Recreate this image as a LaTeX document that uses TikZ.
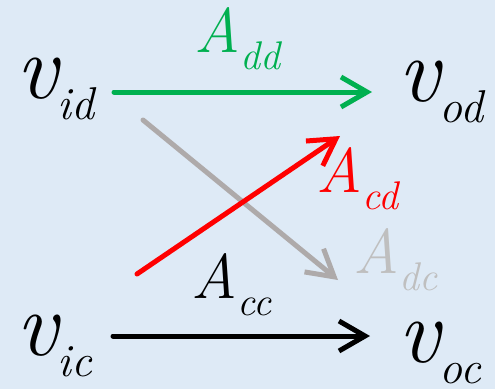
\documentclass[tikz,border=0pt]{standalone}
\usepackage{fontspec}
\usetikzlibrary{arrows.meta}
\definecolor{bgblue}{HTML}{DEEAF6}
\definecolor{dgreen}{HTML}{00B050}
\definecolor{agray}{HTML}{AEAAAA}
\definecolor{lgray}{HTML}{BFBFBF}
\newcommand{\vtxt}[1]{{\fontsize{92}{92}\selectfont v}\raisebox{-21pt}{\fontsize{46}{46}\selectfont #1}}
\newcommand{\atxt}[1]{{\fontsize{63}{63}\selectfont A}\raisebox{-17pt}{\fontsize{40}{40}\selectfont #1}}
\begin{document}
\begin{tikzpicture}[x=1pt,y=-1pt,
  lab/.style={inner sep=0pt, anchor=base west, font=\itshape},
  conn/.style={line width=5pt, line cap=round,
    -{Straight Barb[length=26pt,width=30pt,line width=5pt]}}]
\fill[bgblue] (0,0) rectangle (495,389);
\useasboundingbox (0,0) rectangle (495,389);
% variable nodes
\node[lab] (vid) at (16,98) {\vtxt{id}};
\node[lab] (vod) at (398,101) {\vtxt{od}};
\node[lab] (vic) at (16,355) {\vtxt{ic}};
\node[lab] (voc) at (398,362) {\vtxt{oc}};
% gain labels
\node[lab, text=dgreen] (Add) at (194,52) {\atxt{dd}};
\node[lab, text=red] (Acd) at (316,192) {\atxt{cd}};
\node[lab, text=lgray] (Adc) at (353,273) {\atxt{dc}};
\node[lab, text=black] (Acc) at (191,298) {\atxt{cc}};
% connector ends
\coordinate (gs) at (114,92);  \coordinate (ge) at (372,92);
\coordinate (ys) at (143,120); \coordinate (ye) at (338,280);
\coordinate (rs) at (137,274); \coordinate (re) at (340,136);
\coordinate (ks) at (113,336); \coordinate (ke) at (370,336);
\draw[conn, dgreen] (gs) -- (ge);
\draw[conn, agray] (ys) -- (ye);
\draw[conn, red] (rs) -- (re);
\draw[conn, black] (ks) -- (ke);
\end{tikzpicture}
\end{document}
